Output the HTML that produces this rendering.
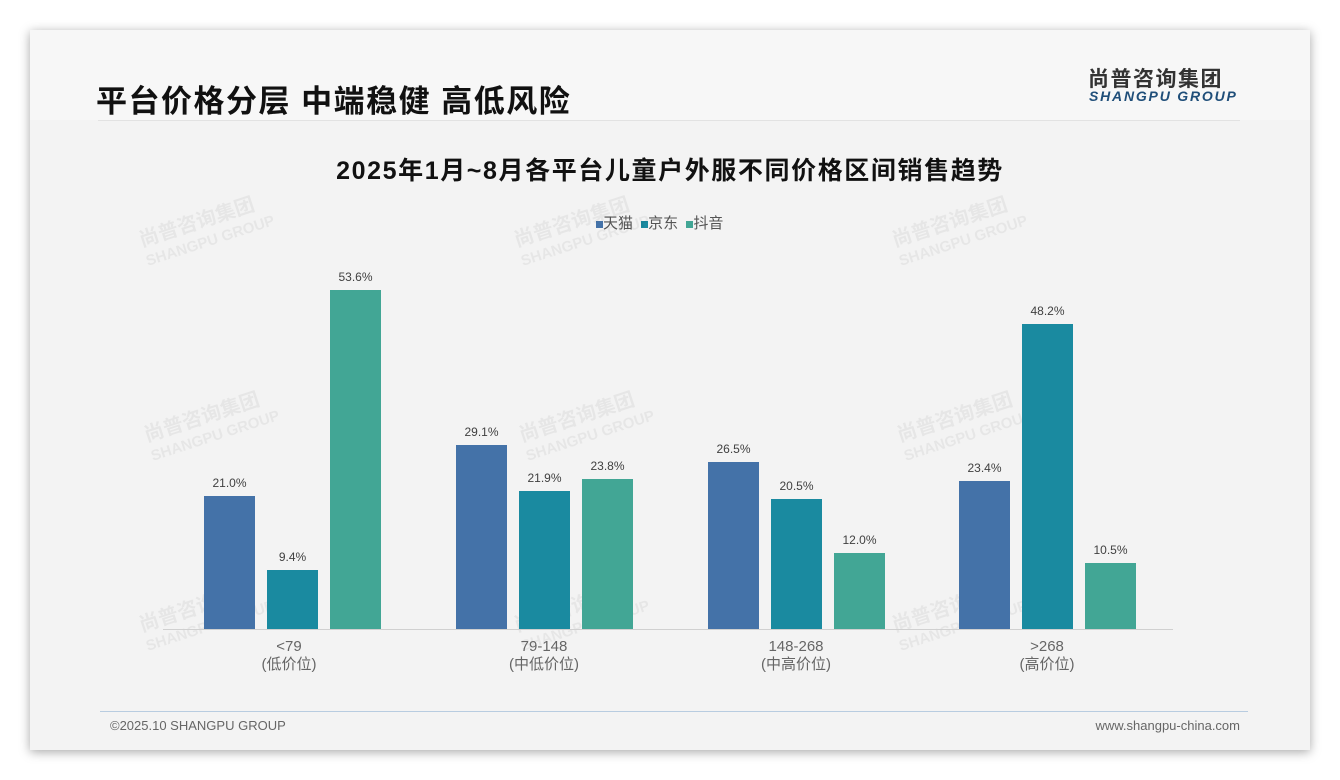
<!DOCTYPE html>
<html><head><meta charset="utf-8"><style>
body{margin:0;width:1340px;height:780px;background:#fff;position:relative;overflow:hidden;font-family:"Liberation Sans","Noto Sans CJK SC",sans-serif}
.card{position:absolute;left:30px;top:30px;width:1280px;height:720px;background:#f3f3f3;box-shadow:0 2px 10px rgba(0,0,0,.35)}
.top{position:absolute;left:30px;top:30px;width:1280px;height:90px;background:#f7f7f7}
.abs{position:absolute}
.bar{position:absolute;width:51px}
.lbl{position:absolute;width:70px;text-align:center;font-size:12px;color:#404040}
.cat{position:absolute;width:140px;text-align:center;font-size:15px;color:#666;line-height:18px}
.wm{position:absolute;color:rgba(0,0,0,0.05);font-weight:bold;transform:rotate(-18deg);font-size:20px;line-height:20px}
</style></head><body>
<div class="card"></div><div class="top"></div>
<div class="abs" style="left:96px;top:76px;font-size:31px;font-weight:bold;color:#111;letter-spacing:1.5px">平台价格分层 中端稳健 高低风险</div>
<div class="abs" style="left:98px;top:120px;width:1142px;height:1px;background:#e2e2e2"></div>
<div class="abs" style="left:1088px;top:63px;font-size:21px;font-weight:bold;color:#333;letter-spacing:1.5px">尚普咨询集团</div>
<div class="abs" style="left:1089px;top:88px;font-size:14px;font-weight:bold;font-style:italic;color:#1f4e79;letter-spacing:1.8px">SHANGPU GROUP</div>
<div class="abs" style="left:0;width:1340px;top:151px;text-align:center;font-size:25px;font-weight:bold;color:#111;letter-spacing:1.6px">2025年1月~8月各平台儿童户外服不同价格区间销售趋势</div>
<div class="abs" style="left:596px;top:212px;font-size:15px;color:#555">
<span style="display:inline-block;width:7px;height:7px;background:#4472a8"></span>天猫 <span style="display:inline-block;width:7px;height:7px;background:#1a8aa0;margin-left:4px"></span>京东 <span style="display:inline-block;width:7px;height:7px;background:#42a695;margin-left:4px"></span>抖音</div>
<div class="wm" style="left:140px;top:210px">尚普咨询集团<br><span style="font-size:15px">SHANGPU GROUP</span></div>
<div class="wm" style="left:515px;top:210px">尚普咨询集团<br><span style="font-size:15px">SHANGPU GROUP</span></div>
<div class="wm" style="left:893px;top:210px">尚普咨询集团<br><span style="font-size:15px">SHANGPU GROUP</span></div>
<div class="wm" style="left:145px;top:405px">尚普咨询集团<br><span style="font-size:15px">SHANGPU GROUP</span></div>
<div class="wm" style="left:520px;top:405px">尚普咨询集团<br><span style="font-size:15px">SHANGPU GROUP</span></div>
<div class="wm" style="left:898px;top:405px">尚普咨询集团<br><span style="font-size:15px">SHANGPU GROUP</span></div>
<div class="wm" style="left:140px;top:595px">尚普咨询集团<br><span style="font-size:15px">SHANGPU GROUP</span></div>
<div class="wm" style="left:515px;top:595px">尚普咨询集团<br><span style="font-size:15px">SHANGPU GROUP</span></div>
<div class="wm" style="left:893px;top:595px">尚普咨询集团<br><span style="font-size:15px">SHANGPU GROUP</span></div>
<div class="abs" style="left:163px;top:629px;width:1010px;height:1px;background:#d0d0d0"></div>
<div id="bars"></div>
<div class="cat" style="left:219px;top:638px">&lt;79<br>(低价位)</div>
<div class="cat" style="left:474px;top:638px">79-148<br>(中低价位)</div>
<div class="cat" style="left:726px;top:638px">148-268<br>(中高价位)</div>
<div class="cat" style="left:977px;top:638px">&gt;268<br>(高价位)</div>
<div class="abs" style="left:100px;top:711px;width:1148px;height:1px;background:#b8cce0"></div>
<div class="abs" style="left:110px;top:718px;font-size:13px;color:#666">©2025.10 SHANGPU GROUP</div>
<div class="abs" style="right:100px;top:718px;font-size:13px;color:#666">www.shangpu-china.com</div>
<script>
var d=[[21.0,9.4,53.6],[29.1,21.9,23.8],[26.5,20.5,12.0],[23.4,48.2,10.5]];
var x0=[204,456,708,959],c=['#4472a8','#1a8aa0','#42a695'],h='';
d.forEach(function(g,i){g.forEach(function(v,j){var x=x0[i]+j*63,hh=v*6.32,t=629-hh;
h+='<div class="bar" style="left:'+x+'px;top:'+t+'px;height:'+hh+'px;background:'+c[j]+'"></div>';
h+='<div class="lbl" style="left:'+(x-9.5)+'px;top:'+(t-20)+'px">'+v.toFixed(1)+'%</div>';});});
document.getElementById('bars').innerHTML=h;
</script>
</body></html>
